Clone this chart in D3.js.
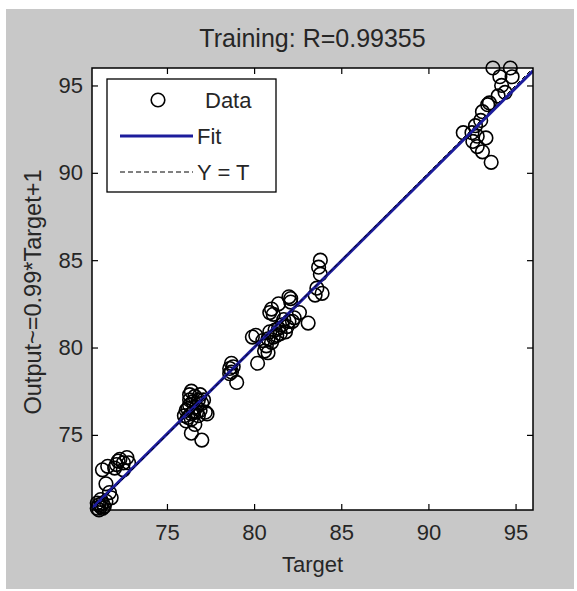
<!DOCTYPE html>
<html>
<head>
<meta charset="utf-8">
<script src="https://d3js.org/d3.v7.min.js"></script>
<style>
  body { margin: 0; background: #fff; }
  text { font-family: "Liberation Sans", Arial, sans-serif; fill: #262626; }
</style>
</head>
<body>
<svg width="577" height="591"></svg>
<script>

// training targets and network outputs
var targets = [
  71.0, 71.1, 71.2, 71.0, 71.3, 71.1, 71.2, 71.4, 71.5, 71.3, 71.8, 71.7,
  71.5, 71.3, 71.6, 72.1, 72.3, 72.5, 72.7, 72.8, 72.5, 72.2, 72.0,
  76.0, 76.1, 76.2, 76.3, 76.3, 76.4, 76.4, 76.5, 76.6, 76.7, 76.8, 76.9,
  77.0, 77.2, 76.2, 76.4, 76.5, 76.1, 76.8, 77.1, 76.4, 77.0, 76.6, 77.3,
  76.3, 76.7, 76.9,
  78.6, 78.7, 78.6, 78.8, 78.7, 79.0,
  79.9, 80.1, 80.2, 80.5, 80.6, 80.8, 80.8, 80.9, 81.0, 81.1, 81.2, 81.3,
  81.5, 81.6, 81.0, 81.4, 80.9, 81.1, 81.8, 81.9, 82.0, 82.1, 82.1, 82.2,
  82.3, 82.6, 82.0, 81.7, 80.7, 81.4,
  83.1, 83.5, 83.9, 83.7, 83.8, 83.8, 83.6,
  93.7, 94.7, 94.1, 94.8, 94.2, 94.4, 94.0, 93.4, 93.1, 93.0, 92.7, 92.0,
  92.5, 92.8, 92.55, 92.8, 93.1, 93.6, 93.3, 93.5
];
var outputs = [
  70.8, 71.0, 70.9, 71.1, 71.1, 70.7, 71.3, 70.9, 71.2, 70.8, 71.4, 71.7,
  72.2, 73.0, 73.2, 73.3, 73.6, 73.4, 73.7, 73.4, 73.0, 73.5, 73.1,
  76.1, 76.4, 76.0, 76.7, 77.3, 77.5, 76.2, 76.9, 77.2, 76.6, 77.0, 76.4,
  76.8, 76.3, 76.5, 75.9, 76.3, 75.8, 76.1, 77.0, 75.1, 74.7, 75.6, 76.2,
  77.0, 76.3, 77.3,
  78.8, 79.1, 78.5, 78.9, 78.6, 78.0,
  80.6, 80.7, 79.1, 80.4, 79.8, 79.7, 80.5, 80.9, 80.3, 80.6, 81.0, 80.7,
  80.8, 81.3, 82.2, 82.5, 82.0, 81.9, 80.9, 81.2, 81.5, 82.8, 82.6, 81.5,
  81.7, 82.0, 82.9, 81.6, 80.1, 81.1,
  81.4, 83.0, 83.1, 84.6, 85.0, 84.2, 83.4,
  96.0, 96.0, 95.5, 95.5, 95.0, 94.6, 94.4, 93.9, 93.5, 93.0, 92.7, 92.3,
  92.3, 92.1, 91.8, 91.5, 91.2, 90.6, 92.0, 94.0
];

var tickValues = [75, 80, 85, 90, 95];
var fitSlope = 0.99, fitIntercept = 0.8;
var titleText = "Training: R=0.99355";
var xLabel = "Target";
var yLabel = "Output~=0.99*Target+1";
var legendLabels = ["Data", "Fit", "Y = T"];

var svg = d3.select("svg");

// grey figure background
svg.append("rect")
    .attr("x", 6).attr("y", 9)
    .attr("width", 568).attr("height", 580)
    .attr("fill", "#c8c8c8");

var margin = {left: 92, top: 68, right: 533, bottom: 510};

// MATLAB plotregression: same limits on both axes
var all = targets.concat(outputs);
var lim = d3.extent(all);

var x = d3.scaleLinear().domain(lim).range([margin.left, margin.right]);
var y = d3.scaleLinear().domain(lim).range([margin.bottom, margin.top]);

svg.append("rect")
    .attr("x", margin.left).attr("y", margin.top)
    .attr("width", margin.right - margin.left)
    .attr("height", margin.bottom - margin.top)
    .attr("fill", "#fff");

var pts = targets.map(function(t, i) { return {t: t, o: outputs[i]}; });

// data circles
svg.append("g").selectAll("circle")
    .data(pts)
  .enter().append("circle")
    .attr("cx", function(d) { return x(d.t); })
    .attr("cy", function(d) { return y(d.o); })
    .attr("r", 6.8)
    .attr("fill", "none")
    .attr("stroke", "#000")
    .attr("stroke-width", 1.6);

// fit line + Y=T
svg.append("defs").append("clipPath").attr("id", "clip")
  .append("rect")
    .attr("x", margin.left).attr("y", margin.top)
    .attr("width", margin.right - margin.left)
    .attr("height", margin.bottom - margin.top);

var lines = svg.append("g").attr("clip-path", "url(#clip)");
lines.append("line")
    .attr("x1", x(lim[0])).attr("y1", y(lim[0] * fitSlope + fitIntercept))
    .attr("x2", x(lim[1])).attr("y2", y(lim[1] * fitSlope + fitIntercept))
    .attr("stroke", "#1c1c9c")
    .attr("stroke-width", 3);
lines.append("line")
    .attr("x1", x(lim[0])).attr("y1", y(lim[0]))
    .attr("x2", x(lim[1])).attr("y2", y(lim[1]))
    .attr("stroke", "#000")
    .attr("stroke-width", 1)
    .attr("stroke-dasharray", "4,3");

// axes, ticks pointing inwards on all four sides
function styleAxis(g) {
  g.select(".domain").remove();
  g.selectAll(".tick line").attr("stroke", "#000").attr("stroke-width", 1.2);
  g.selectAll("text")
      .style("font-family", '"Liberation Sans", Arial, sans-serif')
      .style("font-size", "22px")
      .attr("fill", "#262626");
}

svg.append("g")
    .attr("transform", "translate(0," + margin.bottom + ")")
    .call(d3.axisBottom(x).tickValues(tickValues).tickSize(-6).tickPadding(14))
    .call(styleAxis);
svg.append("g")
    .attr("transform", "translate(0," + margin.top + ")")
    .call(d3.axisTop(x).tickValues(tickValues).tickSize(-6).tickFormat(""))
    .call(styleAxis);
svg.append("g")
    .attr("transform", "translate(" + margin.left + ",0)")
    .call(d3.axisLeft(y).tickValues(tickValues).tickSize(-6).tickPadding(9))
    .call(styleAxis);
svg.append("g")
    .attr("transform", "translate(" + margin.right + ",0)")
    .call(d3.axisRight(y).tickValues(tickValues).tickSize(-6).tickFormat(""))
    .call(styleAxis);

svg.append("rect")
    .attr("x", margin.left).attr("y", margin.top)
    .attr("width", margin.right - margin.left)
    .attr("height", margin.bottom - margin.top)
    .attr("fill", "none")
    .attr("stroke", "#000")
    .attr("stroke-width", 1.5);

// title and labels
svg.append("text")
    .attr("x", (margin.left + margin.right) / 2).attr("y", 47)
    .attr("text-anchor", "middle")
    .style("font-size", "25px")
    .text(titleText);

svg.append("text")
    .attr("x", (margin.left + margin.right) / 2).attr("y", 572)
    .attr("text-anchor", "middle")
    .style("font-size", "22px")
    .text(xLabel);

svg.append("text")
    .attr("transform", "translate(41," + ((margin.top + margin.bottom) / 2 + 3) + ") rotate(-90)")
    .attr("text-anchor", "middle")
    .style("font-size", "23.5px")
    .text(yLabel);

// legend
var lg = svg.append("g");
lg.append("rect")
    .attr("x", 107).attr("y", 79)
    .attr("width", 169).attr("height", 113)
    .attr("fill", "#fff")
    .attr("stroke", "#000")
    .attr("stroke-width", 1.3);

var rowY = [100, 136, 172];
lg.append("circle")
    .attr("cx", 158).attr("cy", rowY[0]).attr("r", 6.8)
    .attr("fill", "none").attr("stroke", "#000").attr("stroke-width", 1.6);
lg.append("line")
    .attr("x1", 120).attr("x2", 193).attr("y1", rowY[1]).attr("y2", rowY[1])
    .attr("stroke", "#1c1c9c").attr("stroke-width", 3);
lg.append("line")
    .attr("x1", 120).attr("x2", 193).attr("y1", rowY[2]).attr("y2", rowY[2])
    .attr("stroke", "#000").attr("stroke-width", 1).attr("stroke-dasharray", "5,3");

lg.selectAll("text.leg")
    .data(legendLabels)
  .enter().append("text")
    .attr("class", "leg")
    .attr("x", function(d, i) { return i == 0 ? 205 : 197; })
    .attr("y", function(d, i) { return rowY[i] + 8; })
    .style("font-size", "22px")
    .text(function(d) { return d; });

</script>
</body>
</html>
